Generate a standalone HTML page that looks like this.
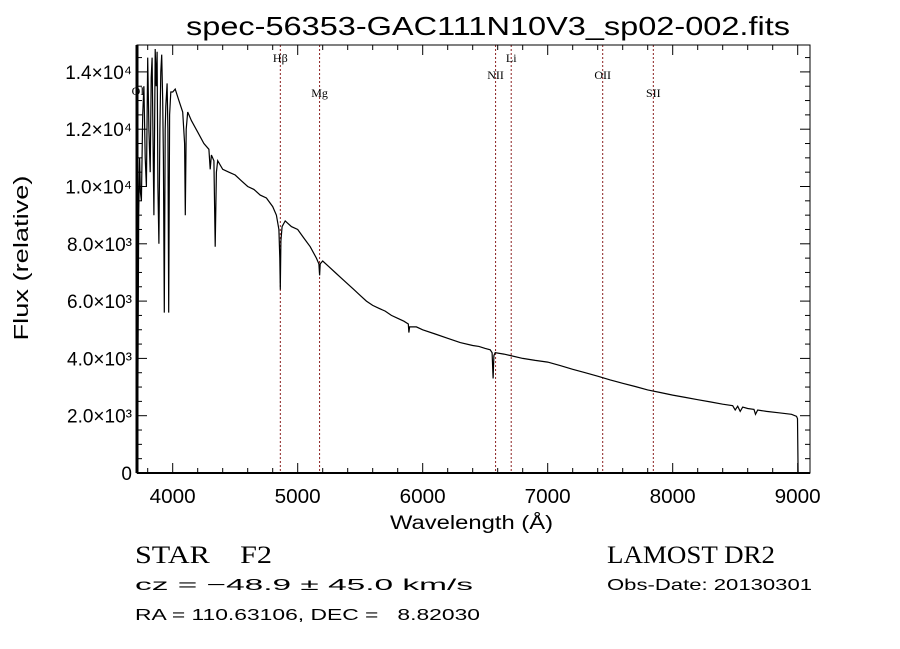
<!DOCTYPE html>
<html><head><meta charset="utf-8"><style>
html,body{margin:0;padding:0;background:#fff;}
svg{display:block;}
.t{font-family:"Liberation Sans",sans-serif;fill:#000;}
.s{font-family:"Liberation Serif",serif;fill:#000;}
</style></head><body>
<svg id="chart" width="900" height="649" viewBox="0 0 900 649">
<text class="t" x="186" y="35" font-size="26" textLength="604" lengthAdjust="spacingAndGlyphs">spec-56353-GAC111N10V3_sp02-002.fits</text>
<text class="t" x="0" y="0" font-size="20" text-anchor="middle" textLength="165" lengthAdjust="spacingAndGlyphs" transform="translate(28,258) rotate(-90)">Flux (relative)</text>
<text class="t" x="390" y="529" font-size="19" textLength="163" lengthAdjust="spacingAndGlyphs">Wavelength (Å)</text>
<g id="ticks"></g>
<g id="lines"></g>
<polyline id="spec" fill="none" stroke="#000" stroke-width="1.2"/>
<rect x="137" y="45" width="673" height="428" fill="none" stroke="#000" stroke-width="1"/>
<line x1="137" y1="45" x2="137" y2="473" stroke="#000" stroke-width="3"/>
<line x1="137" y1="473" x2="810" y2="473" stroke="#000" stroke-width="2"/>
<text class="s" x="135" y="563" font-size="25" textLength="137" lengthAdjust="spacingAndGlyphs">STAR&#160;&#160;&#160;&#160;F2</text>
<text class="s" x="607" y="563" font-size="25" textLength="168" lengthAdjust="spacingAndGlyphs">LAMOST DR2</text>
<text class="t" x="135" y="590" font-size="16" textLength="338" lengthAdjust="spacingAndGlyphs">cz = −48.9 ± 45.0 km/s</text>
<text class="t" x="607" y="590" font-size="16" textLength="205" lengthAdjust="spacingAndGlyphs">Obs-Date: 20130301</text>
<text class="t" x="135" y="620" font-size="16" textLength="345" lengthAdjust="spacingAndGlyphs">RA = 110.63106, DEC =&#160;&#160;&#160;8.82030</text>
</svg>
<script>
const wavelengths=[3714,3718,3722,3728,3735,3742,3750,3760,3770,3780,3790,3800,3810,3820,3828,3835,3842,3850,3856,3860,3868,3875,3882,3890,3898,3905,3912,3920,3926,3933,3940,3945,3955,3962,3968,3975,3985,4000,4020,4050,4080,4095,4101,4108,4120,4150,4200,4250,4290,4300,4310,4330,4340,4350,4360,4400,4450,4500,4550,4600,4650,4700,4750,4800,4830,4850,4857,4861,4866,4875,4900,4950,5000,5050,5100,5150,5170,5175,5180,5200,5250,5300,5350,5400,5450,5500,5550,5600,5650,5700,5750,5800,5850,5885,5890,5895,5950,6000,6100,6200,6300,6400,6450,6500,6540,6555,6563,6570,6580,6650,6700,6800,6900,7000,7100,7200,7300,7400,7500,7600,7700,7800,7900,8000,8100,8200,8300,8400,8480,8500,8520,8540,8560,8600,8650,8662,8680,8750,8850,8950,8990,8998,9003];
const fluxValues=[2000,5000,3000,9000,11000,9800,9500,12500,13500,11000,10000,14500,12000,10500,13800,14500,12000,9000,12500,14800,13500,14700,10000,8000,12000,14000,14600,13000,11000,5600,12000,12800,13600,12000,5600,12500,13300,13300,13400,13000,12600,11500,9000,12000,12600,12300,11900,11500,11300,10600,11100,10900,7900,10500,10900,10600,10500,10400,10200,10000,9900,9700,9600,9300,9000,8500,7500,6400,8100,8600,8800,8600,8500,8200,7900,7500,7300,6900,7300,7400,7200,7000,6800,6600,6400,6200,6000,5850,5750,5650,5500,5400,5300,5200,4900,5100,5100,5000,4850,4700,4550,4450,4420,4350,4300,4200,3300,4100,4200,4150,4100,4000,3930,3870,3750,3620,3500,3380,3250,3130,3020,2900,2810,2720,2640,2560,2480,2400,2350,2200,2330,2150,2300,2250,2220,2050,2200,2150,2100,2050,1980,1900,0];
const xTickValues=[4000,5000,6000,7000,8000,9000];
const yTickValues=[0,2000,4000,6000,8000,10000,12000,14000];
const yTickLabels=["0","2.0×10³","4.0×10³","6.0×10³","8.0×10³","1.0×10⁴","1.2×10⁴","1.4×10⁴"];
const markerNames=["OI","Hβ","Mg","NII","Li","OII","SII"];
const markerWaves=[3722,4861,5175,6583,6708,7440,7845];
const markerLabelY=[95,62,97,79,62,79,97];

const X0=137,X1=810,Y0=473,Y1=45;
const xScale=w=>172.7+(w-4000)*0.125;
const yScale=f=>473-f*0.02865;
const NS="http://www.w3.org/2000/svg";
const ticks=document.getElementById('ticks');
const linesG=document.getElementById('lines');
function mk(tag,attrs,parent){const e=document.createElementNS(NS,tag);for(const k in attrs)e.setAttribute(k,attrs[k]);parent.appendChild(e);return e;}

const n=Math.min(wavelengths.length,fluxValues.length);
document.getElementById('spec').setAttribute('points',wavelengths.slice(0,n).map((w,i)=>xScale(w).toFixed(1)+','+Math.max(Y1,yScale(fluxValues[i])).toFixed(1)).join(' '));

for(let w=3800;w<=9000;w+=200){
  const x=xScale(w);const major=(w%1000===0);const len=major?10:5;
  const a=mk('line',{x1:x,y1:Y0,x2:x,y2:Y0-len,stroke:'#000'},ticks);
  
  
  const b=mk('line',{x1:x,y1:Y1,x2:x,y2:Y1+len,stroke:'#000'},ticks);
  
  
}
xTickValues.forEach(v=>{
  const t=mk('text',{x:xScale(v),y:Y0+30,'font-size':20,'text-anchor':'middle',class:'t',textLength:46,lengthAdjust:'spacingAndGlyphs'},ticks);
  t.textContent=v;
  
  
});
for(let f=0;f<=14500;f+=500){
  const y=yScale(f);const major=(f%2000===0);const len=major?10:5;
  const a=mk('line',{x1:X0,y1:y,x2:X0+len,y2:y,stroke:'#000'},ticks);
  
  
  const b=mk('line',{x1:X1,y1:y,x2:X1-len,y2:y,stroke:'#000'},ticks);
  
  
}
yTickValues.forEach((v,i)=>{
  const t=mk('text',{x:X0-5,y:yScale(v)+7,'font-size':19,'text-anchor':'end',class:'t'},ticks);
  t.textContent=yTickLabels[i];
  
  
});
markerWaves.forEach((w,i)=>{
  const x=xScale(w);
  const l=mk('line',{x1:x,y1:Y1,x2:x,y2:Y0,stroke:'#8b2020','stroke-width':1,'stroke-dasharray':'2,2'},linesG);
  
  
  const t=mk('text',{x:x,y:markerLabelY[i],'font-size':12,'text-anchor':'middle',class:'s'},linesG);
  t.textContent=markerNames[i];
  
  
});
</script>
</body></html>
